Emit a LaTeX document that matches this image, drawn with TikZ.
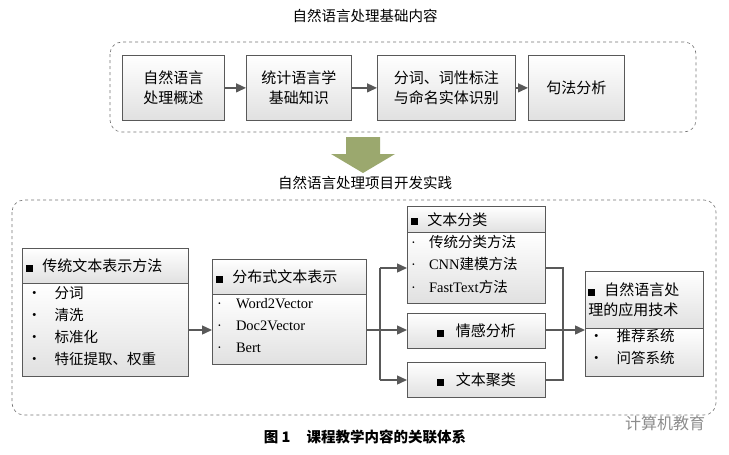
\documentclass[tikz,border=0pt]{standalone}
\usepackage{fontspec}
\setmainfont{Liberation Serif}
\newfontfamily\cjk{Noto Sans CJK SC}
\usetikzlibrary{arrows.meta}
\begin{document}
\begin{tikzpicture}[x=1pt,y=-1pt,
  box/.style={draw=black!65,line width=0.8pt,top color=white,bottom color=black!12,inner sep=0pt,anchor=north west,font=\cjk\fontsize{15}{20}\selectfont,align=center},
  bodyt/.style={anchor=north west,font=\cjk\fontsize{14.5}{22}\selectfont,align=left,inner sep=0pt},
  dashbox/.style={draw=black!55,dashed,line width=0.6pt,rounded corners=12pt},
  arr/.style={draw=black!65,line width=1.4pt,-{Triangle[length=10pt,width=9pt]}},
  ln/.style={draw=black!65,line width=1.4pt},
  ttl/.style={font=\cjk\fontsize{14.5}{16}\selectfont}]
\useasboundingbox (0,0) rectangle (729,455);
\node[ttl] (t1) at (365,16) {自然语言处理基础内容};
\draw[dashbox] (110,42) rectangle (696,132);
\node[box,minimum width=102,minimum height=65] (a1) at (122,55) {自然语言\\处理概述};
\node[box,minimum width=105,minimum height=65] (a2) at (246,55) {统计语言学\\基础知识};
\node[box,minimum width=138,minimum height=65] (a3) at (377,55) {分词、词性标注\\与命名实体识别};
\node[box,minimum width=96,minimum height=65] (a4) at (528,55) {句法分析};
\draw[arr] (a1) -- (a2); \draw[arr] (a2) -- (a3); \draw[arr] (a3) -- (a4);
\fill[fill={rgb,255:red,155;green,168;blue,110}] (346,137) -- (380,137) -- (380,154) -- (395,154) -- (363,173) -- (331,154) -- (346,154) -- cycle;
\node[ttl] (t2) at (365,183) {自然语言处理项目开发实践};
\draw[dashbox] (12,200) rectangle (716,415);
% box1
\node[box,minimum width=166,minimum height=35,align=left,text width=158] (b1h) at (22,248) {\rule{7pt}{7pt}\hspace{9pt}传统文本表示方法};
\node[box,minimum width=166,minimum height=93] (b1) at (22,283) {};
\node[bodyt] (b1t) at (27,286) {·\hspace{13pt}分词\\·\hspace{13pt}清洗\\·\hspace{13pt}标准化\\·\hspace{13pt}特征提取、权重};
% box2
\node[box,minimum width=154,minimum height=35,align=left,text width=146] (b2h) at (212,259) {\rule{7pt}{7pt}\hspace{9pt}分布式文本表示};
\node[box,minimum width=154,minimum height=70] (b2) at (212,294) {};
\node[bodyt,font=\fontsize{14.5}{22}\selectfont] (b2t) at (217,298) {·\hspace{14pt}Word2Vector\\·\hspace{14pt}Doc2Vector\\·\hspace{14pt}Bert};
\draw[arr] (188,330) -- (212,330);
% middle
\node[box,minimum width=138,minimum height=26,align=left,text width=130] (c1h) at (407,206) {\rule{7pt}{7pt}\hspace{9pt}文本分类};
\node[box,minimum width=138,minimum height=71] (c1) at (407,232) {};
\node[bodyt,font=\fontsize{14.5}{22.5}\selectfont] (c1t) at (411,235) {·\hspace{13pt}{\cjk 传统分类方法}\\·\hspace{13pt}CNN{\cjk 建模方法}\\·\hspace{13pt}FastText{\cjk 方法}};
\node[box,minimum width=138,minimum height=35] (c2) at (407,313) {\rule{7pt}{7pt}\hspace{12pt}情感分析};
\node[box,minimum width=138,minimum height=35] (c3) at (407,362) {\rule{7pt}{7pt}\hspace{12pt}文本聚类};
\coordinate (s1) at (380,268); \coordinate (s3) at (380,380);
\draw[ln] (366,330) -- (380,330);
\draw[ln] (s1) -- (s3);
\draw[arr] (s1) -- (407,268); \draw[arr] (380,330) -- (407,330); \draw[arr] (s3) -- (407,380);
% right
\node[box,minimum width=118,minimum height=57,align=left,text width=112] (dh) at (585,271) {\rule{7pt}{7pt}\hspace{9pt}自然语言处\\理的应用技术};
\node[box,minimum width=118,minimum height=48] (d) at (585,328) {};
\node[bodyt] (dt) at (589,329) {·\hspace{13pt}推荐系统\\·\hspace{13pt}问答系统};
\coordinate (m1) at (563,268); \coordinate (m3) at (563,380);
\draw[ln] (545,268) -- (m1) -- (m3) -- (545,380);
\draw[ln] (545,330) -- (563,330);
\draw[arr] (563,330) -- (585,330);
\node[font=\cjk\bfseries\fontsize{14.5}{16}\selectfont] (cap) at (365,437) {图 1\hspace{16pt}课程教学内容的关联体系};
\node[font=\cjk\fontsize{16}{18}\selectfont,text=black!45] (wm) at (665,423) {计算机教育};
\end{tikzpicture}
\end{document}
